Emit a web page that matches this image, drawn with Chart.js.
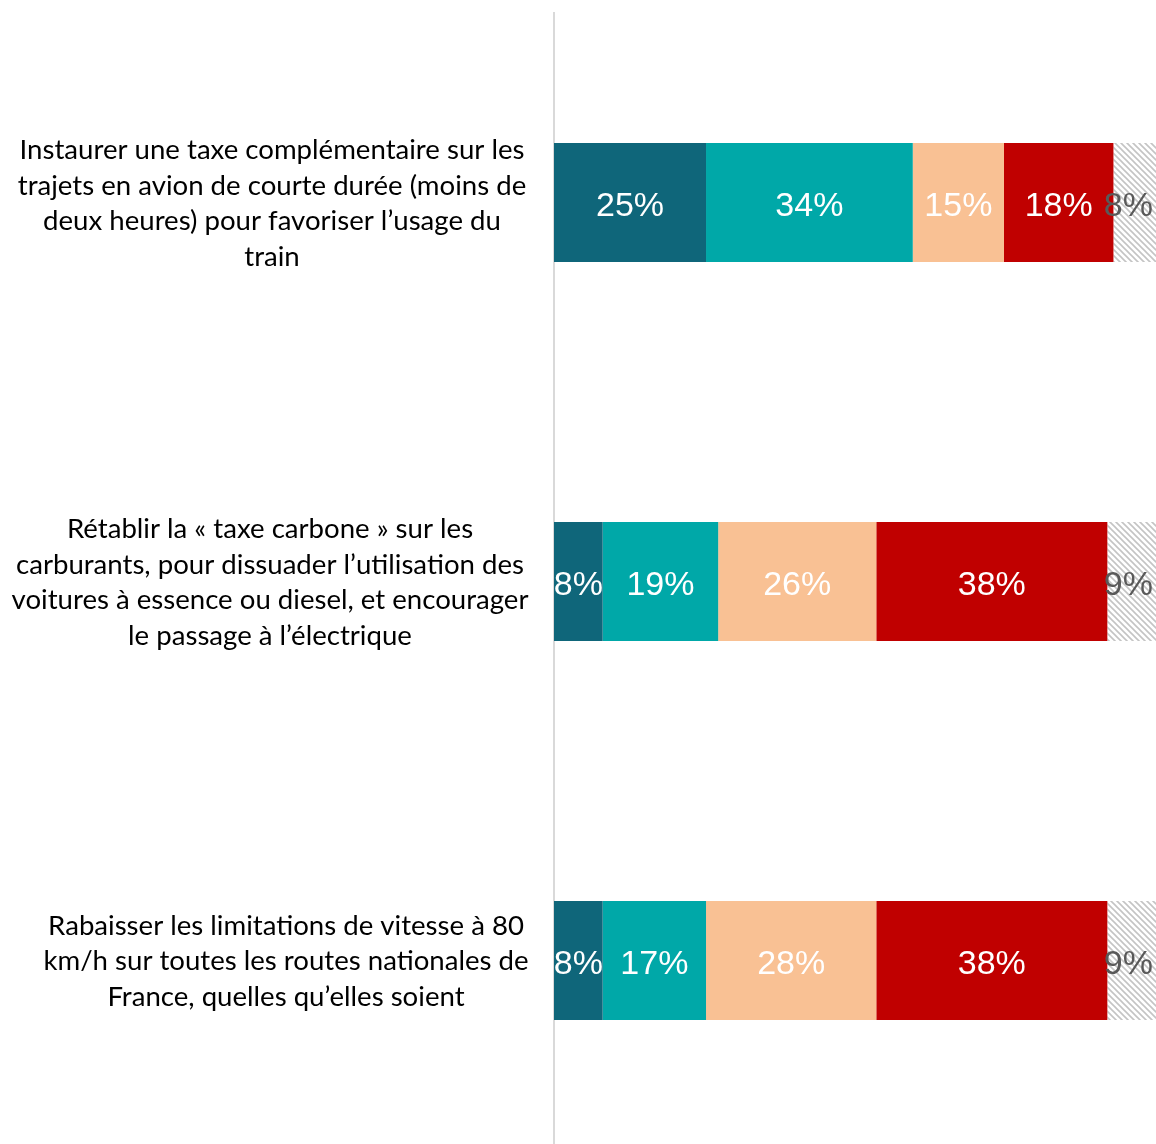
<!DOCTYPE html>
<html><head><meta charset="utf-8">
<script src="https://cdn.jsdelivr.net/npm/chart.js@4/dist/chart.umd.min.js"></script>
<style>html,body{margin:0;padding:0;overflow:hidden;background:#fff}#wrap{width:1156px;height:1150px;position:relative}</style>
</head><body><div id="wrap"><canvas id="c"></canvas></div>
<script>
const categories = [
  ["Instaurer une taxe complémentaire sur les", "trajets en avion de courte durée (moins de", "deux heures) pour favoriser l’usage du", "train"],
  ["Rétablir la « taxe carbone » sur les", "carburants, pour dissuader l’utilisation des", "voitures à essence ou diesel, et encourager", "le passage à l’électrique"],
  ["Rabaisser les limitations de vitesse à 80", "km/h sur toutes les routes nationales de", "France, quelles qu’elles soient"]
];
const seriesNames = ["Tout à fait favorable", "Plutôt favorable", "Plutôt opposé", "Tout à fait opposé", "Ne se prononce pas"];
const s1 = [25, 8, 8];
const s2 = [34, 19, 17];
const s3 = [15, 26, 28];
const s4 = [18, 38, 38];
const s5 = [8, 9, 9];

// hatch pattern
const pc = document.createElement('canvas'); pc.width = 6; pc.height = 6;
const pctx = pc.getContext('2d');
pctx.fillStyle = '#ffffff'; pctx.fillRect(0, 0, 6, 6);
pctx.strokeStyle = '#c4c4c4'; pctx.lineWidth = 1.6;
pctx.beginPath();
pctx.moveTo(-2, -2); pctx.lineTo(8, 8);
pctx.moveTo(-2, 4); pctx.lineTo(2, 8);
pctx.moveTo(4, -2); pctx.lineTo(8, 2);
pctx.stroke();
const hatch = pctx.createPattern(pc, 'repeat');

const colors = ['#0F667A', '#00A8A8', '#F9C194', '#C00000', hatch];
const labelColors = ['#fff', '#fff', '#fff', '#fff', '#595959'];
const seriesData = [s1, s2, s3, s4, s5];
const labelCenters = [272, 270, 286];

const labelPlugin = {
  id: 'labels',
  afterDatasetsDraw(chart) {
    const ctx = chart.ctx, area = chart.chartArea;
    ctx.save();
    ctx.font = '34px "Liberation Sans", Arial, sans-serif';
    ctx.textAlign = 'center'; ctx.textBaseline = 'middle';
    chart.data.datasets.forEach((ds, di) => {
      const meta = chart.getDatasetMeta(di);
      meta.data.forEach((el, i) => {
        const txt = ds.data[i] + '%';
        const w = ctx.measureText(txt).width;
        const l = Math.max(Math.min(el.base, el.x), area.left);
        const r = Math.min(Math.max(el.base, el.x), area.right);
        let cx = (l + r) / 2;
        cx = Math.min(cx, area.right - 3 - w / 2);
        ctx.fillStyle = labelColors[di];
        ctx.fillText(txt, cx, el.y + 4);
      });
    });
    // category labels
    const ys = chart.scales.y;
    ctx.fillStyle = '#000';
    ctx.font = '27.6px Lato, "Open Sans", sans-serif';
    const lh = 35.7;
    categories.forEach((lines, i) => {
      const cy = ys.getPixelForValue(i);
      const y0 = cy - (lines.length - 1) * lh / 2;
      lines.forEach((t, k) => ctx.fillText(t, labelCenters[i], y0 + k * lh + 1));
    });
    ctx.restore();
  }
};

new Chart(document.getElementById('c'), {
  type: 'bar',
  data: {
    labels: categories,
    datasets: seriesData.map((d, i) => ({
      label: seriesNames[i], data: d, backgroundColor: colors[i], borderWidth: 0,
      barPercentage: 1, categoryPercentage: 0.314
    }))
  },
  options: {
    indexAxis: 'y', responsive: true, maintainAspectRatio: false, animation: false,
    layout: { padding: { top: 13, left: 0, right: 0, bottom: 0 } },
    plugins: { legend: { display: false }, tooltip: { enabled: false } },
    scales: {
      x: { stacked: true, min: 0, max: 99, display: false },
      y: {
        stacked: true, grid: { display: false },
        border: { display: true, color: '#D9D9D9', width: 2 },
        ticks: { display: false },
        afterFit(s) { s.width = 554; }
      }
    }
  },
  plugins: [labelPlugin]
});
</script></body></html>
